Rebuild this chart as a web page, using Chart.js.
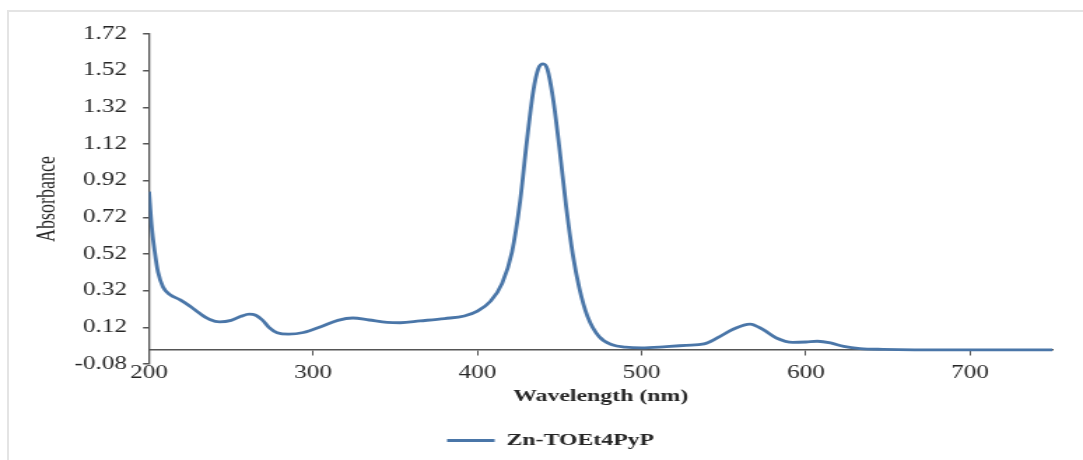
<!DOCTYPE html>
<html>
<head>
<meta charset="utf-8">
<script src="https://cdn.jsdelivr.net/npm/chart.js@4"></script>
<style>
  body { margin: 0; background: #fff; overflow: hidden; }
  #wrap { position: relative; width: 1083px; height: 460px; }
  #frame { position: absolute; top: 10px; left: 7px; right: 0; bottom: -4px;
           border-top: 2px solid #e4e4e4; border-left: 2px solid #e4e4e4; pointer-events: none; }
</style>
</head>
<body>
<div id="wrap">
  <!-- the original figure is stretched sideways, so the canvas is too -->
  <canvas id="myChart" width="774" height="460" style="width:1083px;height:460px"></canvas>
  <div id="frame"></div>
</div>
<script>
// UV-Vis spectrum
var wavelength = [200, 201.5, 203.5, 205.5, 208.5, 212.5, 219, 225, 231, 237, 243, 250, 256, 261, 265, 269, 273, 278, 285, 294,
  305, 315, 324, 334, 345, 353, 365, 380, 392, 400, 408, 415, 421, 426, 430, 434, 437, 440, 442.5, 446,
  450, 454, 458, 462, 467, 474, 482, 490, 500, 515, 527, 538, 546, 556, 566, 574, 582, 592, 600, 607,
  615, 623, 633, 647, 690, 750]
var absorbance = [0.86, 0.68, 0.53, 0.42, 0.34, 0.30, 0.27, 0.235, 0.195, 0.163, 0.150, 0.158, 0.180, 0.192, 0.186, 0.160, 0.120, 0.091, 0.083, 0.092,
  0.125, 0.158, 0.171, 0.160, 0.147, 0.145, 0.155, 0.168, 0.182, 0.208, 0.263, 0.36, 0.53, 0.81, 1.13, 1.41, 1.53, 1.557, 1.53, 1.37,
  1.09, 0.78, 0.52, 0.335, 0.18, 0.07, 0.025, 0.012, 0.008, 0.015, 0.022, 0.03, 0.062, 0.111, 0.138, 0.107, 0.062, 0.038, 0.040, 0.044,
  0.035, 0.016, 0.004, 0.0, -0.003, -0.003]
var seriesName = 'Zn-TOEt4PyP'
var xTicks = [200, 300, 400, 500, 600, 700]
var yTicks = [-0.08, 0.12, 0.32, 0.52, 0.72, 0.92, 1.12, 1.32, 1.52, 1.72]

var points = wavelength.map((w, i) => ({x: w, y: absorbance[i]}))

var axisColor = '#555'
var textColor = '#262626'

let ctx = document.getElementById('myChart').getContext('2d');
let chart = new Chart(ctx, {
    type: 'line',
    data: {
        datasets: [{
            label: seriesName,
            data: points,
            borderColor: '#4a76a8',
            backgroundColor: '#4a76a8',
            borderWidth: 2.8,
            pointRadius: 0,
            cubicInterpolationMode: 'monotone',
            fill: false
        }]
    },
    options: {
        responsive: false,
        animation: false,
        devicePixelRatio: 1,
        layout: { padding: { top: 34, right: 22, bottom: 1, left: 35 } },
        plugins: {
            tooltip: { enabled: false },
            legend: {
                position: 'bottom',
                labels: {
                    usePointStyle: true,
                    pointStyle: 'line',
                    pointStyleWidth: 34,
                    padding: 68,
                    color: textColor,
                    font: { family: 'Liberation Serif', size: 17, weight: 'bold' }
                }
            }
        },
        scales: {
            x: {
                type: 'linear',
                min: 200,
                max: 750,
                position: { y: 0 },
                afterBuildTicks: (scale) => { scale.ticks = xTicks.map(v => ({value: v})) },
                afterFit: (scale) => { scale.height = 57 },
                ticks: {
                    padding: 8,
                    color: textColor,
                    font: { family: 'Liberation Serif', size: 18 }
                },
                grid: { drawOnChartArea: false, tickLength: 5, color: axisColor, lineWidth: 1 },
                border: { color: axisColor, width: 1.5 },
                title: {
                    display: true,
                    text: 'Wavelength (nm)',
                    padding: 0,
                    color: textColor,
                    font: { family: 'Liberation Serif', size: 17, weight: 'bold' }
                }
            },
            y: {
                type: 'linear',
                min: -0.08,
                max: 1.72,
                afterBuildTicks: (scale) => { scale.ticks = yTicks.map(v => ({value: v})) },
                afterFit: (scale) => { scale.width = 71.5 },
                ticks: {
                    padding: 11.4,
                    color: textColor,
                    font: { family: 'Liberation Serif', size: 18 },
                    callback: (v) => v.toFixed(2)
                },
                grid: { drawOnChartArea: false, tickLength: 4.3, color: axisColor, lineWidth: 1.5 },
                border: { color: axisColor, width: 1.3 },
                title: {
                    display: true,
                    text: 'Absorbance',
                    padding: { top: -11.5, bottom: 0 },
                    color: textColor,
                    font: { family: 'Liberation Serif', size: 18 }
                }
            }
        }
    }
});
</script>
</body>
</html>
